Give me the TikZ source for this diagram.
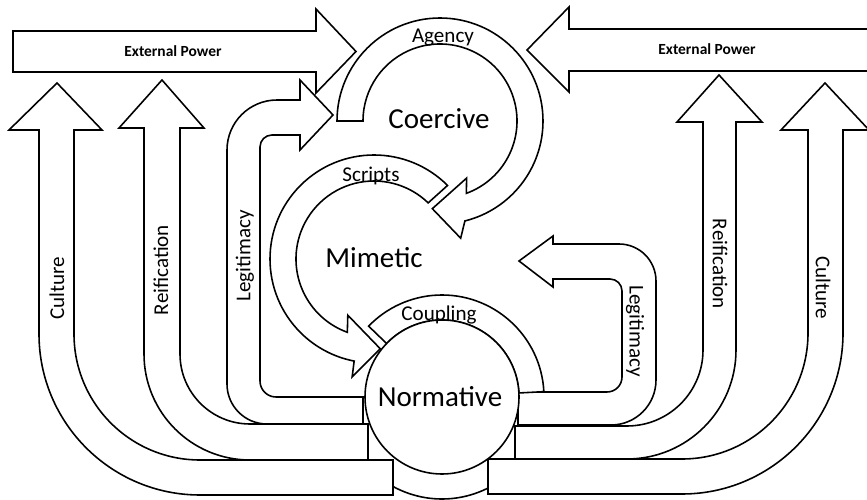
\documentclass[tikz,border=0pt]{standalone}
\usepackage{fontspec}
\setmainfont{Carlito}
\tikzset{
    blockarrow/.style={draw, fill=white, line width=0.9pt, line join=miter},
    biglabel/.style={font=\fontsize{16.5}{18}\selectfont, anchor=base, inner sep=0pt},
    smalllabel/.style={font=\fontsize{12}{14}\selectfont, anchor=base, inner sep=0pt},
    sidelabel/.style={font=\fontsize{12}{14}\selectfont, inner sep=0pt},
    powerlabel/.style={font=\fontsize{8.8}{10}\selectfont\bfseries, anchor=base, inner sep=0pt}
}
\begin{document}
\begin{tikzpicture}[x=0.2mm, y=0.2mm]
        \useasboundingbox (0,0) rectangle (867,500);
        \clip (0,0) rectangle (867,500);
        % culture
        \draw [blockarrow] (393,5) -- (200,5) arc[start angle=270, end angle=180, radius=161] -- (39,370) -- (9,370) -- (57,417) -- (102,370) -- (74,370) -- (74,166) arc[start angle=180, end angle=270, radius=126] -- (393,40) -- cycle;
        \draw [blockarrow] (488,6) -- (682,6) arc[start angle=270, end angle=360, radius=161] -- (843,370) -- (869,370) -- (825,417) -- (781,370) -- (808,370) -- (808,167) arc[start angle=0, end angle=-90, radius=126] -- (488,41) -- cycle;
        % reification
        \draw [blockarrow] (368,40) -- (250,40) arc[start angle=270, end angle=180, radius=106] -- (144,372) -- (119,372) -- (162,420) -- (204,372) -- (180,372) -- (180,146) arc[start angle=180, end angle=270, radius=70] -- (368,76) -- cycle;
        \draw [blockarrow] (515,41) -- (627,41) arc[start angle=270, end angle=360, radius=109] -- (736,378) -- (762,378) -- (719,425) -- (677,378) -- (703,378) -- (703,150) arc[start angle=0, end angle=-90, radius=76] -- (515,74) -- cycle;
        % legitimacy
        \draw [blockarrow] (363,76) -- (267,76) arc[start angle=270, end angle=180, radius=40] -- (227,350) arc[start angle=180, end angle=90, radius=50] -- (300,400) -- (300,420) -- (333,385) -- (300,350) -- (300,365) -- (272,365) arc[start angle=90, end angle=180, radius=12] -- (260,119) arc[start angle=180, end angle=270, radius=16] -- (363,103) -- cycle;
        \draw [blockarrow] (518,75) -- (611,75) arc[start angle=270, end angle=360, radius=45] -- (656,219) arc[start angle=0, end angle=90, radius=37] -- (553,256) -- (553,264) -- (519,239) -- (553,213) -- (553,221) -- (610,221) arc[start angle=90, end angle=0, radius=12] -- (622,123) arc[start angle=0, end angle=-90, radius=15] -- (518,108) -- cycle;
        % normative, coupling
        \begin{scope}[shift={(442,103)}]
            \draw [line width=0.9pt] (241:102) arc[start angle=241, end angle=297, radius=102];
            \draw [blockarrow] (3:102) arc[start angle=3, end angle=136, radius=102] -- (136:77) arc[start angle=136, end angle=3, radius=77] -- cycle;
            \draw [blockarrow] (0,0) circle[radius=77];
        \end{scope}
        % agency
        \begin{scope}[shift={(440,379)}]
            \draw [blockarrow] (180:103) arc[start angle=180, end angle=-76, radius=103] -- (-80:119) -- (-95:88) -- (-65:63) -- (-70:77) arc[start angle=-70, end angle=180, radius=77] -- cycle;
        \end{scope}
        % scripts
        \begin{scope}[shift={(374,241)}]
            \draw [blockarrow] (45:104) arc[start angle=45, end angle=259, radius=104] -- (259.5:120) -- (274:90) -- (245:62) -- (250:78) arc[start angle=250, end angle=46, radius=78] -- cycle;
        \end{scope}
        % external power
        \draw [blockarrow] (13,469) -- (316,469) -- (316,491) -- (356,448.5) -- (316,407) -- (316,428) -- (13,428) -- cycle;
        \draw [blockarrow] (880,471) -- (569,471) -- (569,493) -- (527,450) -- (569,408) -- (569,429) -- (880,429);
        \node [powerlabel] (powerleft) at (173,443) {External Power};
        \node [powerlabel] (powerright) at (707,445) {External Power};
        \node [smalllabel] (agency) at (443,457) {Agency};
        \node [biglabel] (coercive) at (439,371) {Coercive};
        \node [smalllabel] (scripts) at (371,318) {Scripts};
        \node [biglabel] (mimetic) at (374,232) {Mimetic};
        \node [smalllabel] (coupling) at (439,179) {Coupling};
        \node [biglabel] (normative) at (440,93) {Normative};
        \node [sidelabel, rotate=90] (cultureleft) at (57,212) {Culture};
        \node [sidelabel, rotate=90] (reifleft) at (161,230) {Reification};
        \node [sidelabel, rotate=90] (legitleft) at (245,244) {Legitimacy};
        \node [sidelabel, rotate=-90] (cultureright) at (823,212) {Culture};
        \node [sidelabel, rotate=-90] (reifright) at (720,236) {Reification};
        \node [sidelabel, rotate=-90] (legitright) at (635,169) {Legitimacy};
\end{tikzpicture}
\end{document}
